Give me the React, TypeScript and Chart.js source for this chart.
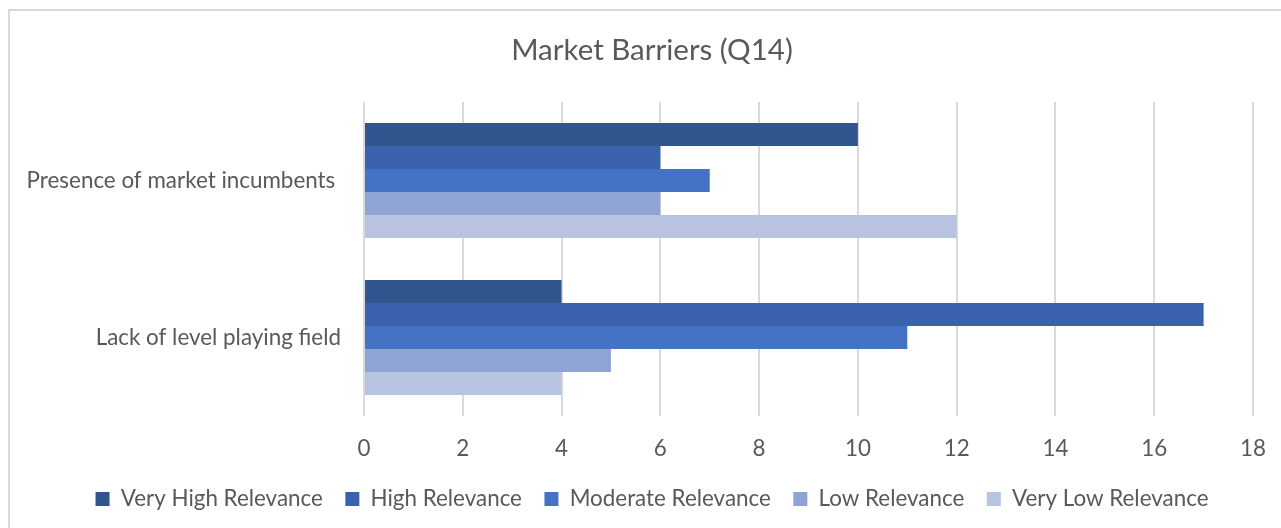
import React, { useEffect, useRef } from "react";
import { Chart, registerables } from "chart.js";

Chart.register(...registerables);

// Survey answers per barrier
const categories = ["Presence of market incumbents ", "Lack of level playing field"];
const seriesNames = [
  "Very High Relevance",
  "High Relevance",
  "Moderate Relevance",
  "Low Relevance",
  "Very Low Relevance",
];
const veryHigh = [10, 4];
const high = [6, 17];
const moderate = [7, 11];
const low = [6, 5];
const veryLow = [12, 4];
const seriesColors = ["#30558F", "#3A62AD", "#4472C4", "#8FA3D4", "#B8C3E2"];
const axisMax = 18;
const axisStep = 2;

const FONT = "Lato, 'Liberation Sans', sans-serif";
const TEXT = "#595959";
const GRID = "#d9d9d9";
const LABEL_SIZE = 22.4;

export default function App() {
  const canvasRef = useRef<HTMLCanvasElement | null>(null);

  useEffect(() => {
    if (!canvasRef.current) return;
    const values = [veryHigh, high, moderate, low, veryLow];
    const chart = new Chart(canvasRef.current, {
      type: "bar",
      data: {
        labels: categories,
        datasets: seriesNames.map((name, i) => ({
          label: name,
          data: values[i],
          backgroundColor: seriesColors[i],
          borderWidth: 0,
          categoryPercentage: 0.733,
          barPercentage: 1.0,
        })),
      },
      options: {
        indexAxis: "y",
        animation: false,
        responsive: false,
        maintainAspectRatio: false,
        layout: { padding: { left: 0, right: 0, top: 0, bottom: 7.8 } },
        scales: {
          x: {
            min: 0,
            max: axisMax,
            ticks: {
              stepSize: axisStep,
              color: TEXT,
              font: { family: FONT, size: LABEL_SIZE },
              padding: 19.5,
            },
            grid: { color: GRID, lineWidth: 2, drawTicks: false },
            border: { display: false },
            afterFit: (s: any) => {
              s.height = 49.3;
            },
          },
          y: {
            ticks: {
              color: TEXT,
              font: { family: FONT, size: LABEL_SIZE },
              padding: 23,
            },
            grid: { display: false, drawTicks: false },
            border: { display: false },
            afterFit: (s: any) => {
              s.width = 355;
            },
          },
          yRight: {
            type: "linear",
            position: "right",
            display: true,
            ticks: { display: false },
            grid: { display: false, drawTicks: false },
            border: { display: false },
            afterFit: (s: any) => {
              s.width = 42;
            },
          },
        },
        plugins: {
          title: {
            display: true,
            text: "Market Barriers (Q14)",
            color: TEXT,
            font: { family: FONT, size: 29.5, weight: "normal" },
            padding: { top: 32.3, bottom: 34.3 },
          },
          legend: {
            position: "bottom",
            labels: {
              color: TEXT,
              font: { family: FONT, size: LABEL_SIZE },
              boxWidth: 14,
              boxHeight: 14,
              padding: 22.5,
            },
          },
          tooltip: { enabled: false },
        },
      },
    } as any);
    return () => chart.destroy();
  }, []);

  return (
    <div
      style={{
        position: "fixed",
        left: 0,
        top: 0,
        width: 1281,
        height: 528,
        overflow: "hidden",
        background: "#ffffff",
      }}
    >
      <div
        style={{
          position: "absolute",
          left: 8,
          top: 9,
          width: 1400,
          height: 600,
          borderLeft: `2px solid ${GRID}`,
          borderTop: `2px solid ${GRID}`,
        }}
      />
      <canvas
        ref={canvasRef}
        width={1286}
        height={528}
        style={{ position: "absolute", left: 9, top: 0, width: 1286, height: 528 }}
      />
    </div>
  );
}
